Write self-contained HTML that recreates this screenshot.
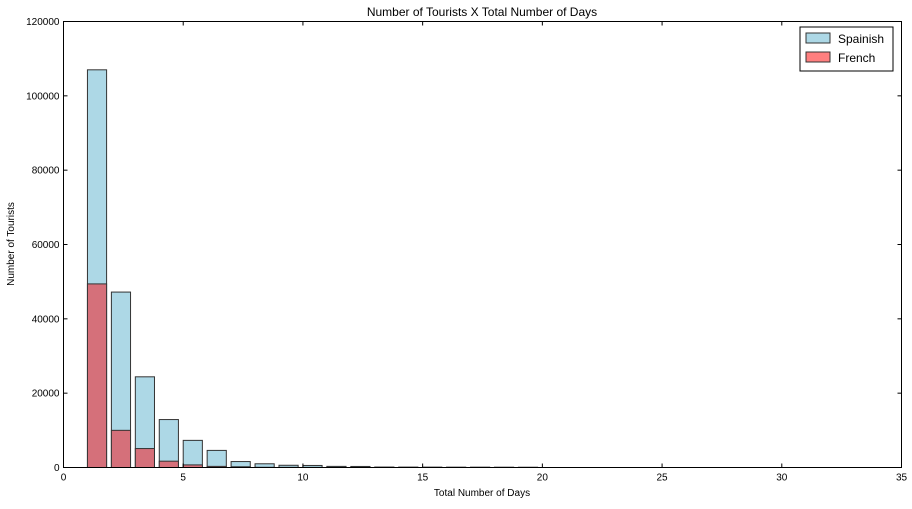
<!DOCTYPE html>
<html><head><meta charset="utf-8"><style>
body{margin:0;background:#fff;font-family:"Liberation Sans","DejaVu Sans",sans-serif;}
svg text{font-family:"Liberation Sans","DejaVu Sans",sans-serif;}
</style></head><body>
<svg id="chart" width="912" height="504" xmlns="http://www.w3.org/2000/svg">
<rect width="912" height="504" fill="#fff"/>
<g id="bars"></g>
<g id="axes"></g>
<text x="482" y="16" font-size="12" text-anchor="middle">Number of Tourists X Total Number of Days</text>
<text x="482" y="496" font-size="10" text-anchor="middle">Total Number of Days</text>
<text x="14" y="244" font-size="10" text-anchor="middle" transform="rotate(-90 14 244)">Number of Tourists</text>
<g>
<rect x="800" y="27" width="93" height="44" fill="#fff" stroke="#000" stroke-width="1"/>
<g>
<rect x="806" y="33" width="24" height="10" fill="#add8e6" stroke="#333"/>
<text x="838" y="43" font-size="12">Spainish</text></g>
<g>
<rect x="806" y="52" width="24" height="10" fill="#ff7f7f" stroke="#333"/>
<text x="838" y="62" font-size="12">French</text></g>
</g>
</svg>
<script>
const days = [1,2,3,4,5,6,7,8,9,10,11,12,13,14,15,16,17,18,19];
const spanish = [107000,47200,24400,12900,7300,4600,1600,1000,600,550,300,280,120,110,100,90,90,80,70];
const french = [49400,10000,5100,1700,700,300,200,60,50,40,30,20,15,10,10,8,6,5,4];
const xTicks = [0,5,10,15,20,25,30,35];
const yTicks = [0,20000,40000,60000,80000,100000,120000];
const L=63.5,R=901.5,T=21.5,B=467.5;
const xs=v=>L+(v/35)*(R-L);
const ys=v=>B-(v/120000)*(B-T);
const NS="http://www.w3.org/2000/svg";
const bars=document.getElementById('bars'), axes=document.getElementById('axes');
function mk(tag,attrs,parent){const e=document.createElementNS(NS,tag);for(const k in attrs)e.setAttribute(k,attrs[k]);parent.appendChild(e);return e;}
days.forEach((d,i)=>{
  const x=xs(d), w=xs(d+0.8)-x;
  const s=mk('rect',{x:x,y:ys(spanish[i]),width:w,height:B-ys(spanish[i]),fill:'#add8e6',stroke:'#333','stroke-width':1},bars);
  
  
  const f=mk('rect',{x:x,y:ys(french[i]),width:w,height:B-ys(french[i]),fill:'#d5707a',stroke:'#333','stroke-width':1},bars);
  
  
});
mk('rect',{x:L,y:T,width:R-L,height:B-T,fill:'none',stroke:'#000','stroke-width':1},axes);
xTicks.forEach(t=>{
  const x=xs(t);
  mk('line',{x1:x,x2:x,y1:B,y2:B-4,stroke:'#000'},axes);
  mk('line',{x1:x,x2:x,y1:T,y2:T+4,stroke:'#000'},axes);
  const tx=mk('text',{x:x,y:B+13,'font-size':10,'text-anchor':'middle'},axes);tx.textContent=t;
  
  
});
yTicks.forEach(t=>{
  const y=ys(t);
  mk('line',{x1:L,x2:L+4,y1:y,y2:y,stroke:'#000'},axes);
  mk('line',{x1:R,x2:R-4,y1:y,y2:y,stroke:'#000'},axes);
  const tx=mk('text',{x:L-4,y:y+3.5,'font-size':10,'text-anchor':'end'},axes);tx.textContent=t;
  
  
});
</script>
</body></html>
